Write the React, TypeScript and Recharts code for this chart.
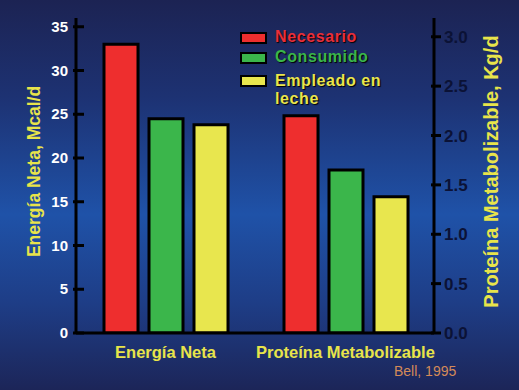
import React from 'react';
import { BarChart, Bar, XAxis, YAxis, Cell } from 'recharts';

// Values
const categories = ['Energía Neta', 'Proteína Metabolizable'];
const seriesNames = ['Necesario', 'Consumido', 'Empleado en leche'];
const seriesColors = ['#ee2e2e', '#3bb64b', '#e8e64e'];
const legendTextColors = ['#ea2e3a', '#3ab54a', '#e9e54d'];
const energiaValues = [33, 24.5, 23.8];
const proteinaValues = [2.2, 1.65, 1.38];
const leftTicks = [0, 5, 10, 15, 20, 25, 30, 35];
const rightTicks = [0, 0.5, 1, 1.5, 2, 2.5, 3];

const YELLOW = '#e8e44a';

// one slot per bar, plus an empty slot between the two groups
const rows = [
    ...energiaValues.map((v, i) => ({ slot: `e${i}`, energia: v, color: seriesColors[i] })),
    { slot: 'gap' },
    ...proteinaValues.map((v, i) => ({ slot: `p${i}`, proteina: v, color: seriesColors[i] })),
];

const slotLabel = (slot: string) => {
    if (slot === 'e1') return categories[0];
    if (slot === 'p1') return categories[1];
    return '';
};

const LeftTick = (props: any) => {
    const { x, y, payload } = props;
    return (
        <g>
            <line x1={x + 5} x2={x + 16} y1={y} y2={y} stroke="#000" strokeWidth={3} />
            <text x={x} y={y} dy={5} textAnchor="end" fill="#ffffff" fontSize={15} fontWeight="bold">
                {payload.value}
            </text>
        </g>
    );
};

const RightTick = (props: any) => {
    const { x, y, payload } = props;
    return (
        <g>
            <line x1={x - 13} x2={x - 3} y1={y} y2={y} stroke="#000" strokeWidth={3} />
            <text x={x} y={y} dy={6} textAnchor="start" fill="#0b1236" fontSize={17} fontWeight="bold">
                {Number(payload.value).toFixed(1)}
            </text>
        </g>
    );
};

const AxisTitle = ({ viewBox, value, dx, size }: any) => {
    const cx = viewBox.x + dx;
    const cy = viewBox.y + viewBox.height / 2 - 4;
    return (
        <text
            x={cx}
            y={cy}
            transform={`rotate(-90 ${cx} ${cy})`}
            textAnchor="middle"
            dominantBaseline="central"
            fill={YELLOW}
            fontSize={size}
            fontWeight="bold"
        >
            {value}
        </text>
    );
};

const legendTextStyle = (i: number): React.CSSProperties => ({
    position: 'absolute',
    left: 35,
    whiteSpace: 'nowrap',
    fontSize: 16,
    lineHeight: '18px',
    letterSpacing: 0.6,
    fontWeight: 'bold',
    color: legendTextColors[i],
    textShadow: '1px 1px 1px #000',
});

const Legendish = () => (
    <div style={{ position: 'absolute', left: 240, top: 28, fontFamily: '"Liberation Sans", Arial, sans-serif' }}>
        {seriesNames.map((name, i) => {
            const boxTop = [4, 24, 47][i];
            const lines = name === 'Empleado en leche' ? ['Empleado en', 'leche'] : [name];
            const firstTop = [0, 20, 44][i];
            return (
                <React.Fragment key={name}>
                    <div
                        style={{
                            position: 'absolute',
                            left: 0,
                            top: boxTop,
                            width: 27,
                            height: 12,
                            boxSizing: 'border-box',
                            border: '2px solid #000',
                            background: seriesColors[i],
                        }}
                    />
                    {lines.map((ln, k) => (
                        <div key={ln} style={{ ...legendTextStyle(i), top: firstTop + k * 18 }}>
                            {ln}
                        </div>
                    ))}
                </React.Fragment>
            );
        })}
    </div>
);

export default function App() {
    return (
        <div
            style={{
                position: 'absolute',
                left: 0,
                top: 0,
                width: 519,
                height: 390,
                overflow: 'hidden',
                fontFamily: '"Liberation Sans", Arial, sans-serif',
                background:
                    'linear-gradient(180deg, #1c2353 0%, #1d3273 25%, #1f52a8 55%, #1e3d86 78%, #1c2558 100%)',
            }}
        >
            <BarChart
                width={519}
                height={390}
                data={rows}
                margin={{ top: 18, right: 25, left: 36, bottom: 27 }}
                style={{ fontFamily: '"Liberation Sans", Arial, sans-serif' }}
            >
                <XAxis
                    xAxisId="e"
                    dataKey="slot"
                    interval={0}
                    height={30}
                    padding={{ left: 22, right: 21 }}
                    axisLine={{ stroke: '#000', strokeWidth: 3 }}
                    tickLine={false}
                    tickSize={6}
                    tickMargin={7}
                    tickFormatter={slotLabel}
                    tick={{ fill: YELLOW, fontSize: 16.5, fontWeight: 'bold' }}
                />
                <XAxis xAxisId="p" dataKey="slot" hide padding={{ left: 22, right: 21 }} />
                <YAxis
                    yAxisId="left"
                    orientation="left"
                    width={40}
                    domain={[0, 36]}
                    ticks={leftTicks}
                    interval={0}
                    allowDataOverflow
                    axisLine={{ stroke: '#000', strokeWidth: 3 }}
                    tickLine={false}
                    tickSize={3}
                    tickMargin={5}
                    tick={<LeftTick />}
                    label={{ content: (p: any) => <AxisTitle {...p} value="Energía Neta, Mcal/d" dx={-2} size={17.5} /> }}
                />
                <YAxis
                    yAxisId="right"
                    orientation="right"
                    width={60}
                    domain={[0, 3.19]}
                    ticks={rightTicks}
                    interval={0}
                    allowDataOverflow
                    axisLine={{ stroke: '#000', strokeWidth: 3 }}
                    tickLine={false}
                    tickSize={5}
                    tickMargin={5}
                    tick={<RightTick />}
                    label={{ content: (p: any) => <AxisTitle {...p} value="Proteína Metabolizable, Kg/d" dx={57} size={20} /> }}
                />
                <Bar
                    xAxisId="e"
                    yAxisId="left"
                    dataKey="energia"
                    barSize={34}
                    stroke="#000"
                    strokeWidth={3}
                    isAnimationActive={false}
                >
                    {rows.map((r: any) => (
                        <Cell key={r.slot} fill={r.color || 'none'} />
                    ))}
                </Bar>
                <Bar
                    xAxisId="p"
                    yAxisId="right"
                    dataKey="proteina"
                    barSize={34}
                    stroke="#000"
                    strokeWidth={3}
                    isAnimationActive={false}
                >
                    {rows.map((r: any) => (
                        <Cell key={r.slot} fill={r.color || 'none'} />
                    ))}
                </Bar>
            </BarChart>
            <Legendish />
            <div
                style={{
                    position: 'absolute',
                    left: 394,
                    top: 363,
                    fontSize: 14,
                    color: '#d48a58',
                }}
            >
                Bell, 1995
            </div>
        </div>
    );
}
